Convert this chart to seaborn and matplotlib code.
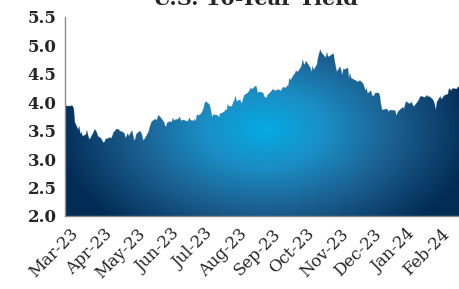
import numpy as np
import pandas as pd
import matplotlib
matplotlib.use("Agg")
import matplotlib.pyplot as plt
import matplotlib.dates as mdates
import matplotlib.transforms as mtransforms
from matplotlib.colors import LinearSegmentedColormap
from matplotlib.patches import PathPatch
from matplotlib.ticker import FormatStrFormatter
import seaborn as sns

title = "U.S. 10-Year Yield"
holidays = ["2023-05-29", "2023-06-19", "2023-07-04", "2023-09-04", "2023-10-09",
            "2023-11-23", "2023-12-25", "2024-01-01", "2024-01-15", "2024-02-19"]
y_mar23 = [3.93, 3.94, 3.93, 3.93, 3.94, 3.93, 3.88, 3.64, 3.52, 3.57, 3.44, 3.47, 3.40,
           3.43, 3.50, 3.41, 3.35, 3.36, 3.47, 3.52, 3.50, 3.46, 3.40]
y_apr23 = [3.36, 3.31, 3.29, 3.30, 3.35, 3.37, 3.38, 3.36, 3.40, 3.46,
           3.53, 3.52, 3.52, 3.48, 3.49, 3.45, 3.37, 3.40, 3.45, 3.40]
y_may23 = [3.50, 3.40, 3.32, 3.36, 3.44, 3.49, 3.47, 3.42, 3.33, 3.34,
           3.44, 3.48, 3.55, 3.61, 3.66, 3.70, 3.68, 3.71, 3.77, 3.75, 3.65, 3.58]
y_jun23 = [3.57, 3.64, 3.66, 3.64, 3.72, 3.67, 3.69, 3.70, 3.74, 3.70, 3.66, 3.69,
           3.66, 3.67, 3.72, 3.68, 3.67, 3.70, 3.66, 3.78, 3.76]
y_jul23 = [3.80, 3.88, 3.98, 4.01, 3.96, 3.91, 3.80, 3.73, 3.78, 3.77, 3.76, 3.72,
           3.80, 3.80, 3.83, 3.87, 3.84, 3.96, 3.92, 3.93]
y_aug23 = [4.00, 4.03, 4.10, 4.01, 4.04, 3.99, 3.98, 4.06, 4.12, 4.16, 4.18, 4.21,
           4.25, 4.22, 4.28, 4.27, 4.16, 4.17, 4.18, 4.16, 4.10, 4.08, 4.07]
y_sep23 = [4.12, 4.20, 4.23, 4.20, 4.20, 4.22, 4.21, 4.19, 4.22, 4.26,
           4.25, 4.29, 4.28, 4.42, 4.38, 4.48, 4.50, 4.55, 4.53, 4.54]
y_oct23 = [4.63, 4.74, 4.67, 4.66, 4.72, 4.60, 4.52, 4.63, 4.56, 4.66, 4.78,
           4.85, 4.92, 4.87, 4.80, 4.78, 4.87, 4.80, 4.80, 4.84, 4.85]
y_nov23 = [4.72, 4.62, 4.53, 4.62, 4.55, 4.47, 4.58, 4.57, 4.60, 4.42, 4.50,
           4.42, 4.41, 4.38, 4.37, 4.35, 4.38, 4.32, 4.26, 4.20, 4.24]
y_dec23 = [4.15, 4.20, 4.12, 4.10, 4.12, 4.16, 4.16, 4.12, 3.97, 3.87,
           3.86, 3.88, 3.87, 3.83, 3.85, 3.86, 3.85, 3.76, 3.80, 3.84]
y_jan24 = [3.91, 3.88, 3.95, 4.01, 3.97, 3.98, 4.00, 3.95, 3.92, 4.02, 4.06,
           4.10, 4.10, 4.08, 4.10, 4.12, 4.09, 4.10, 4.05, 4.02, 3.95]
y_feb24 = [3.86, 4.00, 4.10, 4.05, 4.07, 4.10, 4.12, 4.14, 4.24, 4.22, 4.20,
           4.24, 4.23, 4.26, 4.27]
y_ticks = [2.0, 2.5, 3.0, 3.5, 4.0, 4.5, 5.0, 5.5]

yields = (y_mar23 + y_apr23 + y_may23 + y_jun23 + y_jul23 + y_aug23 + y_sep23 +
          y_oct23 + y_nov23 + y_dec23 + y_jan24 + y_feb24)
dates = pd.bdate_range("2023-03-01", "2024-02-22", freq="C", holidays=holidays)
df = pd.DataFrame({"date": dates, "yield": yields})

sns.set_style("white")
plt.rcParams["font.family"] = ["DejaVu Serif"]

fig = plt.figure(figsize=(4.59, 2.89), dpi=100)
ax = fig.add_axes([65 / 459, 1 - 216 / 289, 1 - 65 / 459, (216 - 16.7) / 289])

x0 = mdates.date2num(pd.Timestamp("2023-03-01"))
x1 = mdates.date2num(pd.Timestamp("2024-02-22"))
ax.set_xlim(x0, x1)
ax.set_ylim(2.0, 5.5)

# gradient-filled area
poly = ax.fill_between(df["date"], 2.0, df["yield"], facecolor="none", edgecolor="none")
path = poly.get_paths()[0]
clip = PathPatch(path, transform=ax.transData, facecolor="none", edgecolor="none")
ax.add_patch(clip)

W, H = 394, 199
u = np.linspace(0, 1, 400)
v = np.linspace(0, 1, 200)
U, V = np.meshgrid(u, v)
cx, cy = (265 - 65) / W, (216 - 130) / H
rx, ry = 210 / W, 130 / H
t = np.sqrt(((U - cx) / rx) ** 2 + ((V - cy) / ry) ** 2)
t = np.clip(t, 0, 1)
cmap = LinearSegmentedColormap.from_list(
    "g", [(0, "#05aae3"), (0.28, "#1a8fc6"), (0.6, "#1c6192"), (1, "#032c55")])
im = ax.imshow(t, cmap=cmap, vmin=0, vmax=1, origin="lower", aspect="auto",
               extent=(x0, x1, 2.0, 5.5), interpolation="bilinear", zorder=1)
im.set_clip_path(clip)

sns.lineplot(data=df, x="date", y="yield", ax=ax, color="#1d5d8c", linewidth=0.4,
             alpha=0.5, zorder=2)

ax.set_xlabel("")
ax.set_ylabel("")
ax.set_yticks(y_ticks)
ax.yaxis.set_major_formatter(FormatStrFormatter("%.1f"))
ax.xaxis.set_major_locator(mdates.MonthLocator())
ax.xaxis.set_major_formatter(mdates.DateFormatter("%b-%y"))

for s in ["top", "right"]:
    ax.spines[s].set_visible(False)
for s in ["left", "bottom"]:
    ax.spines[s].set_color("#8c8c8c")
    ax.spines[s].set_linewidth(1.0)
    ax.spines[s].set_zorder(5)

ax.tick_params(axis="both", direction="out", length=4, width=1, color="#8c8c8c",
               pad=2)
ax.tick_params(axis="y", labelsize=12)
ax.tick_params(axis="x", labelsize=12)
for lab in ax.get_yticklabels():
    lab.set_fontweight("bold")
offset = mtransforms.ScaledTranslation(5 / 100, -1 / 100, fig.dpi_scale_trans)
for lab in ax.get_xticklabels():
    lab.set_rotation(45)
    lab.set_ha("right")
    lab.set_rotation_mode("anchor")
    lab.set_transform(lab.get_transform() + offset)

fig.text(255 / 459, 1 - 5 / 289, title, ha="center", va="baseline",
         fontsize=15, fontweight="bold")

fig.savefig("out.png", dpi=100)
